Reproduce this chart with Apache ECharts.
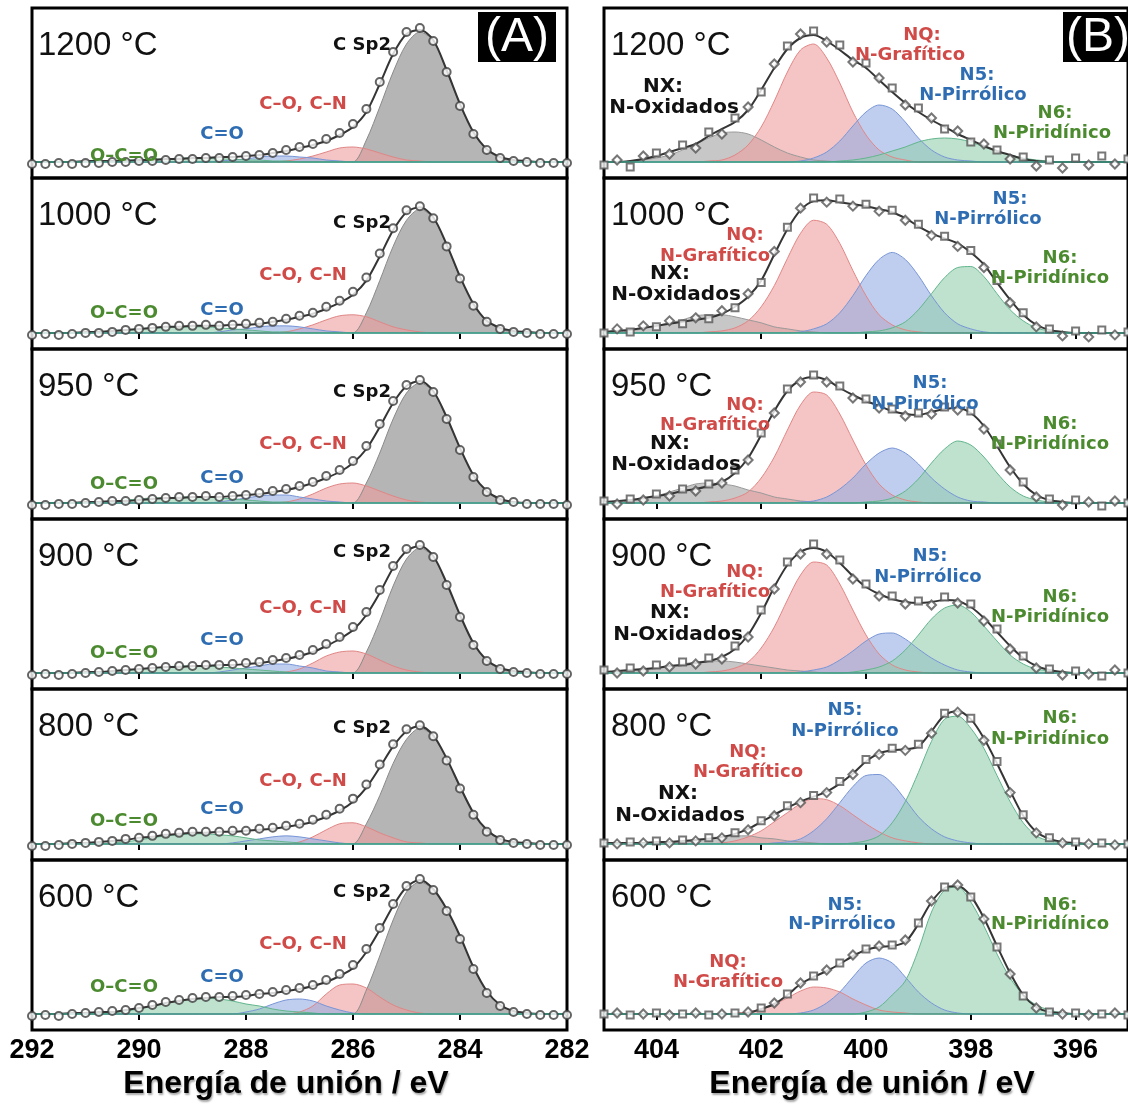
<!DOCTYPE html>
<html>
<head>
<meta charset="utf-8">
<script src="https://cdn.jsdelivr.net/npm/echarts@6/dist/echarts.min.js"></script>
<style>
html, body { margin: 0; background: #fff; }
#chart { width: 1128px; height: 1105px; }
</style>
</head>
<body>
<div id="chart"></div>
<script>
// binding energy grids (eV)
var eC = [292,291.75,291.5,291.25,291,290.75,290.5,290.25,290,289.75,289.5,289.25,289,288.75,288.5,288.25,288,287.75,287.5,287.25,287,286.75,286.5,286.25,286,285.75,285.5,285.25,285,284.75,284.5,284.25,284,283.75,283.5,283.25,283,282.75,282.5,282.25,282];
var eN = [405,404.75,404.5,404.25,404,403.75,403.5,403.25,403,402.75,402.5,402.25,402,401.75,401.5,401.25,401,400.75,400.5,400.25,400,399.75,399.5,399.25,399,398.75,398.5,398.25,398,397.75,397.5,397.25,397,396.75,396.5,396.25,396,395.75,395.5,395.25,395];

var temps = ['1200 °C', '1000 °C', '950 °C', '900 °C', '800 °C', '600 °C'];
var nTicks = [404, 402, 400, 398, 396];

// ---- C 1s (A) ----
var c1200_env  = [0,0,0,0,1,1,1,1, 2,2,3,3,4,4,5,5, 6,7,9,11,14,17,21,27, 35,50,78,108,128,132,122,92, 58,30,13,5,2,1,0,0,0];
var c1200_pts  = [-2,-2,-1,-2,-1,-1,0,0, 1,1,2,3,3,4,4,5, 6,7,9,12,15,18,23,29, 38,53,80,110,130,134,121,90, 56,28,12,4,1,0,-1,-1,-1];
var c1200_sp2  = [0,0,0,0,0,0,0,0, 0,0,0,0,0,0,0,0, 0,0,0,0,0,0,0,0, 0,22,55,90,118,130,121,91, 57,29,12,4,1,0,0,0,0];
var c1200_co   = [0,0,0,0,0,0,0,0, 0,0,0,0,0,0,0,0, 0,0,0,1,3,6,10,14, 15,13,9,5,2,1,0,0, 0,0,0,0,0,0,0,0,0];
var c1200_cdo  = [0,0,0,0,0,0,0,0, 0,0,0,0,0,0,1,2, 3,5,6,6,5,4,2,1, 0,0,0,0,0,0,0,0, 0,0,0,0,0,0,0,0,0];
var c1200_occo = [0,0,0,0,0,1,1,2, 2,3,3,4,4,4,3,3, 2,2,1,1,0,0,0,0, 0,0,0,0,0,0,0,0, 0,0,0,0,0,0,0,0,0];

var c1000_env  = [0,0,0,0,1,1,2,3, 4,5,6,6,7,7,7,8, 8,9,11,13,16,19,24,30, 38,52,76,102,120,125,115,88, 56,29,12,5,2,1,0,0,0];
var c1000_pts  = [-2,-1,-2,-1,0,0,1,3, 4,5,6,7,7,8,7,8, 9,10,11,14,17,20,26,32, 41,55,79,104,122,126,114,86, 54,27,11,4,1,0,-1,-1,-1];
var c1000_sp2  = [0,0,0,0,0,0,0,0, 0,0,0,0,0,0,0,0, 0,0,0,0,0,0,0,0, 0,20,52,86,112,123,114,87, 55,28,12,4,1,0,0,0,0];
var c1000_co   = [0,0,0,0,0,0,0,0, 0,0,0,0,0,0,0,0, 0,0,0,1,4,8,13,17, 18,16,11,6,3,1,0,0, 0,0,0,0,0,0,0,0,0];
var c1000_cdo  = [0,0,0,0,0,0,0,0, 0,0,0,0,0,0,1,3, 4,6,7,7,6,4,2,1, 0,0,0,0,0,0,0,0, 0,0,0,0,0,0,0,0,0];
var c1000_occo = [0,0,0,0,0,1,2,3, 4,5,5,6,6,6,5,4, 3,2,1,1,0,0,0,0, 0,0,0,0,0,0,0,0, 0,0,0,0,0,0,0,0,0];

var c950_env  = [0,0,0,0,1,1,2,2, 3,4,5,5,6,6,6,7, 8,9,11,13,16,20,25,31, 40,54,76,100,117,122,112,86, 55,28,12,4,1,0,0,0,0];
var c950_pts  = [-2,-2,-1,-1,0,1,2,2, 3,4,5,6,6,7,6,7, 8,10,12,14,17,21,27,33, 42,57,79,102,118,123,111,84, 53,26,11,3,1,-1,-1,-1,-2];
var c950_sp2  = [0,0,0,0,0,0,0,0, 0,0,0,0,0,0,0,0, 0,0,0,0,0,0,0,0, 0,20,50,84,110,120,111,85, 54,27,11,4,1,0,0,0,0];
var c950_co   = [0,0,0,0,0,0,0,0, 0,0,0,0,0,0,0,0, 0,0,0,1,4,9,15,19, 20,17,12,7,3,1,0,0, 0,0,0,0,0,0,0,0,0];
var c950_cdo  = [0,0,0,0,0,0,0,0, 0,0,0,0,0,0,1,3, 5,7,8,8,6,4,2,1, 0,0,0,0,0,0,0,0, 0,0,0,0,0,0,0,0,0];
var c950_occo = [0,0,0,0,0,1,2,3, 4,5,5,6,6,6,5,4, 3,2,1,1,0,0,0,0, 0,0,0,0,0,0,0,0, 0,0,0,0,0,0,0,0,0];

var c900_env  = [0,0,0,0,1,1,2,3, 4,5,6,6,7,7,8,8, 9,10,12,14,17,21,27,34, 43,58,80,105,122,127,117,90, 58,30,13,5,2,1,0,0,0];
var c900_pts  = [-2,-1,-2,-1,0,1,2,3, 4,5,6,7,7,8,8,9, 10,11,13,15,18,23,29,36, 46,61,83,107,124,128,116,88, 56,28,12,4,1,0,-1,-1,-1];
var c900_sp2  = [0,0,0,0,0,0,0,0, 0,0,0,0,0,0,0,0, 0,0,0,0,0,0,0,0, 0,21,52,87,114,125,116,89, 57,29,12,4,1,0,0,0,0];
var c900_co   = [0,0,0,0,0,0,0,0, 0,0,0,0,0,0,0,0, 0,0,0,1,4,10,17,21, 22,19,13,7,3,1,0,0, 0,0,0,0,0,0,0,0,0];
var c900_cdo  = [0,0,0,0,0,0,0,0, 0,0,0,0,0,0,1,3, 5,7,9,9,7,5,2,1, 0,0,0,0,0,0,0,0, 0,0,0,0,0,0,0,0,0];
var c900_occo = [0,0,0,0,0,1,2,3, 4,5,6,7,7,7,6,5, 4,3,2,1,0,0,0,0, 0,0,0,0,0,0,0,0, 0,0,0,0,0,0,0,0,0];

var c800_env  = [0,0,0,1,1,2,3,4, 6,7,9,10,11,11,12,12, 13,14,15,17,19,22,27,33, 42,56,76,97,112,117,108,85, 57,31,14,5,2,1,0,0,0];
var c800_pts  = [-2,-2,-1,0,1,2,3,5, 6,8,10,11,12,12,12,13, 13,15,16,18,20,24,29,35, 45,59,79,99,114,118,107,83, 55,29,12,4,1,0,-1,-1,-1];
var c800_sp2  = [0,0,0,0,0,0,0,0, 0,0,0,0,0,0,0,0, 0,0,0,0,0,0,0,0, 0,20,48,80,104,115,107,84, 56,30,13,5,2,0,0,0,0];
var c800_co   = [0,0,0,0,0,0,0,0, 0,0,0,0,0,0,0,0, 0,0,0,0,2,7,14,20, 21,17,11,6,2,1,0,0, 0,0,0,0,0,0,0,0,0];
var c800_cdo  = [0,0,0,0,0,0,0,0, 0,0,0,0,0,0,0,1, 3,5,7,8,7,5,3,1, 0,0,0,0,0,0,0,0, 0,0,0,0,0,0,0,0,0];
var c800_occo = [0,0,0,0,0,0,1,2, 4,6,8,9,10,10,9,8, 6,4,3,2,1,0,0,0, 0,0,0,0,0,0,0,0, 0,0,0,0,0,0,0,0,0];

var c600_env  = [0,0,0,1,1,2,2,4, 6,8,11,13,15,16,17,17, 18,20,21,23,25,28,32,38, 46,62,84,108,127,134,125,105, 78,47,23,9,3,1,0,0,0];
var c600_pts  = [-2,-1,-2,0,1,2,3,4, 6,9,12,14,16,17,17,18, 19,20,22,24,26,29,34,40, 49,65,86,110,128,135,124,103, 75,45,21,8,2,0,-1,-1,-1];
var c600_sp2  = [0,0,0,0,0,0,0,0, 0,0,0,0,0,0,0,0, 0,0,0,0,0,0,0,0, 0,24,58,94,122,132,124,104, 77,47,23,9,3,1,0,0,0];
var c600_co   = [0,0,0,0,0,0,0,0, 0,0,0,0,0,0,0,0, 0,0,0,0,2,8,20,29, 30,26,17,9,4,1,0,0, 0,0,0,0,0,0,0,0,0];
var c600_cdo  = [0,0,0,0,0,0,0,0, 0,0,0,0,0,0,0,0, 2,5,10,14,15,13,8,4, 1,0,0,0,0,0,0,0, 0,0,0,0,0,0,0,0,0];
var c600_occo = [0,0,0,0,0,0,1,3, 5,8,11,14,15,16,15,13, 10,8,5,3,2,1,0,0, 0,0,0,0,0,0,0,0, 0,0,0,0,0,0,0,0,0];

// ---- N 1s (B) ----
var n1200_env = [0,0,1,3,6,10,14,18, 26,33,40,52,72,94,113,124, 127,121,112,102,94,82,70,59, 50,42,35,28,22,16,11,7, 3,1,0,0,0,0,0,0,0];
var n1200_pts = [-3,2,-5,6,9,8,17,14, 30,28,44,55,70,98,116,128, 131,120,117,100,99,84,74,57, 54,44,33,31,20,18,12,3, 5,-4,2,-6,4,-3,6,-2,3];
var n1200_nx  = [0,0,1,2,4,7,12,18, 24,29,30,28,22,15,9,5, 2,1,0,0,0,0,0,0, 0,0,0,0,0,0,0,0, 0,0,0,0,0,0,0,0,0];
var n1200_nq  = [0,0,0,0,0,0,0,0, 1,2,7,17,35,61,90,112, 118,104,79,50,27,12,5,2, 0,0,0,0,0,0,0,0, 0,0,0,0,0,0,0,0,0];
var n1200_n5  = [0,0,0,0,0,0,0,0, 0,0,0,0,0,0,0,1, 4,10,21,36,50,57,53,40, 24,12,5,2,1,0,0,0, 0,0,0,0,0,0,0,0,0];
var n1200_n6  = [0,0,0,0,0,0,0,0, 0,0,0,0,0,0,0,0, 0,0,1,2,4,7,11,15, 20,23,24,23,20,15,11,7, 4,2,1,0,0,0,0,0,0];

var n1000_env = [1,2,3,5,7,9,11,13, 15,19,26,36,52,78,103,122, 131,132,130,128,126,123,120,114, 106,99,94,89,80,68,50,33, 18,8,3,1,0,0,0,0,0];
var n1000_pts = [0,4,1,7,6,12,9,15, 14,22,25,39,50,81,105,124, 134,130,133,126,128,121,122,112, 108,97,96,86,82,65,52,30, 20,6,4,-3,2,-4,3,-2,1];
var n1000_nx  = [1,1,2,4,7,10,13,17, 18,18,16,13,10,6,4,2, 1,0,0,0,0,0,0,0, 0,0,0,0,0,0,0,0, 0,0,0,0,0,0,0,0,0];
var n1000_nq  = [0,0,0,0,0,0,0,0, 1,2,5,12,26,47,74,99, 112,108,89,62,37,18,8,3, 1,0,0,0,0,0,0,0, 0,0,0,0,0,0,0,0,0];
var n1000_n5  = [0,0,0,0,0,0,0,0, 0,0,0,0,0,0,0,1, 4,9,20,37,57,73,80,73, 57,37,20,9,4,1,0,0, 0,0,0,0,0,0,0,0,0];
var n1000_n6  = [0,0,0,0,0,0,0,0, 0,0,0,0,0,0,0,0, 0,0,0,0,1,2,5,11, 23,39,55,65,66,56,39,23, 12,5,2,1,0,0,0,0,0];

var n950_env = [1,2,3,5,7,9,12,14, 17,21,30,45,68,92,112,123, 126,123,115,108,102,97,92,89, 88,91,94,95,90,77,57,36, 19,8,3,1,0,0,0,0,0];
var n950_pts = [2,-1,4,3,9,7,14,12, 19,20,33,43,70,90,114,121, 128,121,117,105,104,95,94,87, 90,89,96,93,92,74,59,33, 21,6,4,-2,3,1,-3,2,0];
var n950_nx  = [1,1,2,4,7,11,15,19, 20,19,17,13,10,6,4,2, 1,0,0,0,0,0,0,0, 0,0,0,0,0,0,0,0, 0,0,0,0,0,0,0,0,0];
var n950_nq  = [0,0,0,0,0,0,0,0, 1,2,5,11,25,46,73,98, 111,108,89,63,38,19,8,3, 1,0,0,0,0,0,0,0, 0,0,0,0,0,0,0,0,0];
var n950_n5  = [0,0,0,0,0,0,0,0, 0,0,0,0,0,0,0,1, 2,6,14,25,39,50,55,50, 39,25,14,6,2,1,0,0, 0,0,0,0,0,0,0,0,0];
var n950_n6  = [0,0,0,0,0,0,0,0, 0,0,0,0,0,0,0,0, 0,0,0,0,1,2,5,12, 24,40,54,62,58,46,30,16, 7,3,1,0,0,0,0,0,0];

var n900_env = [1,2,3,4,5,7,8,10, 12,16,24,38,60,86,108,121, 125,121,110,97,86,79,74,71, 70,71,73,72,66,55,41,27, 15,7,3,1,0,0,0,0,0];
var n900_pts = [3,0,5,2,8,6,11,9, 15,14,27,36,63,84,111,119, 129,119,113,94,89,77,77,69, 72,68,76,70,69,52,44,24, 17,5,4,-2,2,-1,-3,3,0];
var n900_nx  = [1,1,2,3,5,7,9,11, 12,12,11,9,7,5,3,2, 1,0,0,0,0,0,0,0, 0,0,0,0,0,0,0,0, 0,0,0,0,0,0,0,0,0];
var n900_nq  = [0,0,0,0,0,0,0,0, 1,2,5,11,25,46,73,98, 111,108,89,63,38,19,8,3, 1,0,0,0,0,0,0,0, 0,0,0,0,0,0,0,0,0];
var n900_n5  = [0,0,0,0,0,0,0,0, 0,0,0,0,0,0,0,1, 3,6,13,22,32,39,40,34, 24,15,8,3,1,0,0,0, 0,0,0,0,0,0,0,0,0];
var n900_n6  = [0,0,0,0,0,0,0,0, 0,0,0,0,0,0,0,0, 0,0,0,1,3,6,12,23, 38,54,65,68,61,47,32,18, 9,4,2,1,0,0,0,0,0];

var n800_env = [1,1,1,1,2,2,3,4, 5,7,10,15,22,29,36,42, 47,52,60,70,82,90,93,94, 97,112,128,132,124,105,80,53, 28,12,5,2,1,0,0,0,0];
var n800_pts = [1,0,2,1,3,1,4,3, 6,6,11,14,23,28,38,41, 48,51,62,69,84,89,95,93, 99,110,130,131,125,103,82,51, 29,11,6,1,2,0,1,-1,0];
var n800_nx  = [0,0,0,0,0,1,2,4, 6,7,8,8,6,5,3,2, 1,0,0,0,0,0,0,0, 0,0,0,0,0,0,0,0, 0,0,0,0,0,0,0,0,0];
var n800_nq  = [0,0,0,0,0,0,0,0, 0,1,3,7,13,22,31,40, 45,44,38,29,20,12,6,3, 1,0,0,0,0,0,0,0, 0,0,0,0,0,0,0,0,0];
var n800_n5  = [0,0,0,0,0,0,0,0, 0,0,0,0,0,1,2,5, 13,25,41,57,68,69,60,44, 27,15,7,3,1,0,0,0, 0,0,0,0,0,0,0,0,0];
var n800_n6  = [0,0,0,0,0,0,0,0, 0,0,0,0,0,0,0,0, 0,0,0,1,3,8,21,42, 71,102,124,127,115,95,68,42, 21,8,3,1,0,0,0,0,0];

var n600_env = [0,0,0,0,0,0,0,0, 0,0,0,1,5,10,19,30, 37,43,50,58,64,67,68,72, 90,112,126,128,118,96,68,41, 19,7,2,1,0,0,0,0,0];
var n600_pts = [0,1,-1,0,1,-1,0,1, -1,0,1,2,6,11,20,31, 38,44,51,59,65,68,69,74, 91,113,127,129,117,95,67,40, 18,6,2,0,1,-1,0,1,-1];
var n600_nq  = [0,0,0,0,0,0,0,0, 0,0,1,2,5,10,16,23, 27,26,22,15,9,4,2,1, 0,0,0,0,0,0,0,0, 0,0,0,0,0,0,0,0,0];
var n600_n5  = [0,0,0,0,0,0,0,0, 0,0,0,0,0,0,0,1, 4,11,22,37,51,56,51,37, 22,11,4,1,0,0,0,0, 0,0,0,0,0,0,0,0,0];
var n600_n6  = [0,0,0,0,0,0,0,0, 0,0,0,0,0,0,0,0, 0,0,0,0,2,7,19,33, 64,102,124,127,112,88,60,36, 19,9,4,1,0,0,0,0,0];

var cPanels = [
  {env: c1200_env, pts: c1200_pts, comps: [c1200_sp2, c1200_co, c1200_cdo, c1200_occo]},
  {env: c1000_env, pts: c1000_pts, comps: [c1000_sp2, c1000_co, c1000_cdo, c1000_occo]},
  {env: c950_env,  pts: c950_pts,  comps: [c950_sp2,  c950_co,  c950_cdo,  c950_occo]},
  {env: c900_env,  pts: c900_pts,  comps: [c900_sp2,  c900_co,  c900_cdo,  c900_occo]},
  {env: c800_env,  pts: c800_pts,  comps: [c800_sp2,  c800_co,  c800_cdo,  c800_occo]},
  {env: c600_env,  pts: c600_pts,  comps: [c600_sp2,  c600_co,  c600_cdo,  c600_occo]}
];
var nPanels = [
  {env: n1200_env, pts: n1200_pts, comps: [n1200_nx, n1200_nq, n1200_n5, n1200_n6]},
  {env: n1000_env, pts: n1000_pts, comps: [n1000_nx, n1000_nq, n1000_n5, n1000_n6]},
  {env: n950_env,  pts: n950_pts,  comps: [n950_nx,  n950_nq,  n950_n5,  n950_n6]},
  {env: n900_env,  pts: n900_pts,  comps: [n900_nx,  n900_nq,  n900_n5,  n900_n6]},
  {env: n800_env,  pts: n800_pts,  comps: [n800_nx,  n800_nq,  n800_n5,  n800_n6]},
  {env: n600_env,  pts: n600_pts,  comps: [null,     n600_nq,  n600_n5,  n600_n6]}
];

// layout
var rows = [[8, 170], [178, 171], [349, 170], [519, 170], [689, 171], [860, 170]];
var compStyle = [
  {fill: '#a2a2a2', line: '#8a8a8a', op: 0.8},
  {fill: '#ee9d9d', line: '#e08686', op: 0.6},
  {fill: '#94ade3', line: '#7895d6', op: 0.6},
  {fill: '#92cfad', line: '#62b58c', op: 0.6}
];
var labelColor = {k: '#111', r: '#d04a48', b: '#2f6db3', g: '#4b8a2f'};

var grids = [], xAxes = [], yAxes = [], series = [], graphics = [];

function pairs(xs, ys) {
  return xs.map(function (x, i) { return [x, ys[i]]; });
}

function text(x, y, s, font, color, align) {
  graphics.push({
    type: 'text', x: x, y: y, z: 100, silent: true,
    style: {text: s, font: font, fill: color, textAlign: align || 'center',
            textVerticalAlign: 'middle', align: align || 'center', verticalAlign: 'middle'}
  });
}

function addPanel(col, r, p) {
  var k = grids.length;
  var xs = col === 0 ? eC : eN;
  grids.push({
    left: col === 0 ? 32 : 604, top: rows[r][0], width: 535, height: rows[r][1],
    show: true, borderColor: '#000', borderWidth: 3, backgroundColor: 'transparent'
  });
  var ax = {
    gridIndex: k, type: 'value', position: 'top', inverse: true,
    axisLine: {show: false}, axisLabel: {show: false}, splitLine: {show: false},
    axisTick: {show: r > 0, inside: true, length: 6, lineStyle: {color: '#000', width: 2}}
  };
  if (col === 0) { ax.min = 282; ax.max = 292; ax.interval = 2; }
  else { ax.min = 395; ax.max = 405; ax.axisTick.customValues = nTicks; }
  xAxes.push(ax);
  var xi = xAxes.length - 1;
  yAxes.push({gridIndex: k, type: 'value', min: -16, max: 154, show: false});

  p.comps.forEach(function (ys, c) {
    if (!ys) return;
    var st = compStyle[c];
    if (col === 1 && c === 0) st = {fill: '#b4b4b4', line: '#9a9a9a', op: 0.75};
    series.push({
      type: 'line', xAxisIndex: xi, yAxisIndex: k, data: pairs(xs, ys),
      smooth: 0.3, symbol: 'none', silent: true, z: 2,
      lineStyle: {color: st.line, width: 1},
      areaStyle: {color: st.fill, opacity: st.op}
    });
  });
  series.push({
    type: 'line', xAxisIndex: xi, yAxisIndex: k, data: pairs(xs, p.env),
    smooth: 0.3, symbol: 'none', silent: true, z: 4,
    lineStyle: {color: '#353535', width: 2},
    markLine: {
      silent: true, symbol: 'none', label: {show: false},
      lineStyle: {color: '#3e9e88', width: 1.5, type: 'solid'},
      data: [{yAxis: 0}]
    }
  });
  if (col === 0) {
    series.push({
      type: 'scatter', xAxisIndex: xi, yAxisIndex: k, data: pairs(xs, p.pts),
      symbol: 'emptyCircle', symbolSize: 8, silent: true, z: 5,
      itemStyle: {color: '#3d3d3d', borderWidth: 1.2}
    });
  } else {
    var even = [], odd = [];
    p.pts.forEach(function (v, i) { (i % 2 ? odd : even).push([xs[i], v]); });
    series.push({
      type: 'scatter', xAxisIndex: xi, yAxisIndex: k, data: even,
      symbol: 'emptyRect', symbolSize: 7, silent: true, z: 5,
      itemStyle: {color: '#555', borderWidth: 1.1}
    });
    series.push({
      type: 'scatter', xAxisIndex: xi, yAxisIndex: k, data: odd,
      symbol: 'emptyDiamond', symbolSize: 9, silent: true, z: 5,
      itemStyle: {color: '#555', borderWidth: 1.1}
    });
  }
  if (r === 5) {
    var lab = {
      gridIndex: k, type: 'value', position: 'bottom', inverse: true,
      axisLine: {show: false}, axisTick: {show: false}, splitLine: {show: false},
      axisLabel: {show: true, margin: 7, color: '#000', fontSize: 27, fontWeight: 'bold',
                  fontFamily: 'Liberation Sans', showMinLabel: true, showMaxLabel: true}
    };
    if (col === 0) { lab.min = 282; lab.max = 292; lab.interval = 2; }
    else { lab.min = 395; lab.max = 405; lab.axisLabel.customValues = nTicks; }
    xAxes.push(lab);
  }
  text(col === 0 ? 38 : 611, rows[r][0] + 38, temps[r], '33px "Liberation Sans"', '#111', 'left');
}

for (var r = 0; r < 6; r++) {
  addPanel(0, r, cPanels[r]);
  addPanel(1, r, nPanels[r]);
}

// C 1s component labels
var cNames = [['C Sp2', 'k'], ['C–O, C–N', 'r'], ['C=O', 'b'], ['O–C=O', 'g']];
var cLabelPos = [
  [[362, 45], [303, 104], [222, 134], [124, 156]],
  [[362, 223], [303, 275], [222, 310], [124, 313]],
  [[362, 392], [303, 444], [222, 478], [124, 484]],
  [[362, 552], [303, 608], [222, 640], [124, 653]],
  [[362, 728], [303, 781], [222, 809], [124, 821]],
  [[362, 892], [303, 944], [222, 977], [124, 987]]
];
cLabelPos.forEach(function (row) {
  row.forEach(function (pos, i) {
    text(pos[0], pos[1], cNames[i][0], 'bold 18px "DejaVu Sans"', labelColor[cNames[i][1]]);
  });
});

// N 1s component labels
var nLabels = [
  [['NX:', 663, 87, 'k'], ['N-Oxidados', 674, 108, 'k'], ['NQ:', 922, 35, 'r'], ['N-Grafítico', 910, 55, 'r'],
   ['N5:', 977, 75, 'b'], ['N-Pirrólico', 973, 95, 'b'], ['N6:', 1055, 113, 'g'], ['N-Piridínico', 1052, 133, 'g']],
  [['NQ:', 745, 235, 'r'], ['N-Grafítico', 715, 256, 'r'], ['NX:', 670, 274, 'k'], ['N-Oxidados', 676, 295, 'k'],
   ['N5:', 1010, 199, 'b'], ['N-Pirrólico', 988, 219, 'b'], ['N6:', 1060, 258, 'g'], ['N-Piridínico', 1050, 278, 'g']],
  [['NQ:', 745, 405, 'r'], ['N-Grafítico', 715, 425, 'r'], ['NX:', 670, 444, 'k'], ['N-Oxidados', 676, 465, 'k'],
   ['N5:', 930, 383, 'b'], ['N-Pirrólico', 925, 404, 'b'], ['N6:', 1060, 424, 'g'], ['N-Piridínico', 1050, 444, 'g']],
  [['NQ:', 745, 572, 'r'], ['N-Grafítico', 715, 592, 'r'], ['NX:', 670, 613, 'k'], ['N-Oxidados', 678, 635, 'k'],
   ['N5:', 930, 556, 'b'], ['N-Pirrólico', 928, 577, 'b'], ['N6:', 1060, 597, 'g'], ['N-Piridínico', 1050, 617, 'g']],
  [['N5:', 845, 710, 'b'], ['N-Pirrólico', 845, 731, 'b'], ['NQ:', 748, 752, 'r'], ['N-Grafítico', 748, 772, 'r'],
   ['NX:', 678, 794, 'k'], ['N-Oxidados', 680, 816, 'k'], ['N6:', 1060, 718, 'g'], ['N-Piridínico', 1050, 739, 'g']],
  [['N5:', 845, 905, 'b'], ['N-Pirrólico', 842, 924, 'b'], ['NQ:', 728, 962, 'r'], ['N-Grafítico', 728, 982, 'r'],
   ['N6:', 1060, 905, 'g'], ['N-Piridínico', 1050, 924, 'g']]
];
nLabels.forEach(function (row) {
  row.forEach(function (l) {
    var f = l[3] === 'k' ? 'bold 20px "DejaVu Sans"' : 'bold 18px "DejaVu Sans"';
    text(l[1], l[2], l[0], f, labelColor[l[3]]);
  });
});

// panel tags
graphics.push({type: 'rect', z: 99, silent: true, shape: {x: 478, y: 12, width: 78, height: 50}, style: {fill: '#000'}});
graphics.push({type: 'rect', z: 99, silent: true, shape: {x: 1063, y: 12, width: 70, height: 50}, style: {fill: '#000'}});
text(517, 38, '(A)', '48px "Liberation Sans"', '#fff');
text(1098, 38, '(B)', '48px "Liberation Sans"', '#fff');

// axis titles
[[286, 'Energía de unión / eV'], [872, 'Energía de unión / eV']].forEach(function (t) {
  graphics.push({
    type: 'text', x: t[0], y: 1084, z: 100, silent: true,
    style: {text: t[1], font: 'bold 32px "Liberation Sans"', fill: '#000',
            textAlign: 'center', textVerticalAlign: 'middle', align: 'center', verticalAlign: 'middle',
            textShadowColor: 'rgba(0,0,0,0.35)', textShadowBlur: 2, textShadowOffsetX: 1, textShadowOffsetY: 2}
  });
});

var chart = echarts.init(document.getElementById('chart'), null, {renderer: 'canvas'});
chart.setOption({
  animation: false,
  backgroundColor: '#fff',
  grid: grids,
  xAxis: xAxes,
  yAxis: yAxes,
  series: series,
  graphic: graphics
});
window.addEventListener('resize', function () { chart.resize(); });
</script>
</body>
</html>
